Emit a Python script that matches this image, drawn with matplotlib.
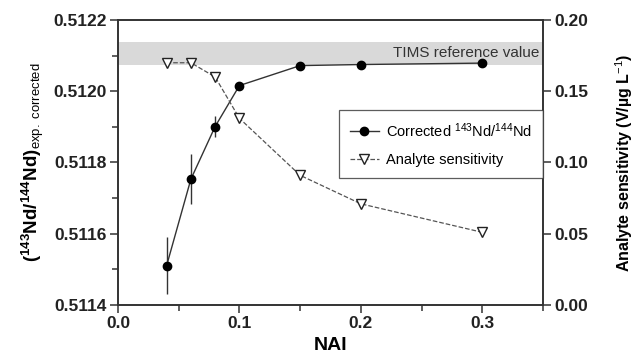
import matplotlib
matplotlib.use("Agg")
import matplotlib.pyplot as plt
from matplotlib.lines import Line2D
from matplotlib.ticker import MultipleLocator

plt.rcParams['font.family'] = ['Liberation Sans', 'DejaVu Sans']
plt.rcParams['mathtext.fontset'] = 'custom'
plt.rcParams['mathtext.rm'] = 'Liberation Sans'
plt.rcParams['mathtext.it'] = 'Liberation Sans:italic'
plt.rcParams['mathtext.bf'] = 'Liberation Sans:bold'

# Data
nai = [0.04, 0.06, 0.08, 0.10, 0.15, 0.20, 0.30]
nd_ratio = [0.51151, 0.511753, 0.511901, 0.512016, 0.512072, 0.512075, 0.512079]
nd_err = [0.00008, 0.00007, 0.00003, 0, 0, 0, 0]
sensitivity = [0.170, 0.170, 0.160, 0.131, 0.091, 0.071, 0.051]
tims_low = 0.512073
tims_high = 0.512139

col = '#333333'

fig = plt.figure(figsize=(6.34, 3.58), dpi=100)
ax = fig.add_axes([118/634, 1 - 305/358, (543-118)/634, (305-20)/358])
ax2 = ax.twinx()

# TIMS reference band
ax.axhspan(tims_low, tims_high, color='#d9d9d9', zorder=0, lw=0)
ax.text(0.347, (tims_low + tims_high) / 2, 'TIMS reference value',
        ha='right', va='center', fontsize=11, color='#333333')

ax.errorbar(nai, nd_ratio, yerr=nd_err, color=col, marker='o', ms=6,
            lw=1, elinewidth=1, capsize=0, mfc='black', mec='black', zorder=3)
l2, = ax2.plot(nai, sensitivity, color='#555555', ls='--', lw=0.9, marker='v',
               ms=7, mfc='white', mec='#222222', mew=1, zorder=3)

ax.set_xlim(0, 0.35)
ax.set_ylim(0.5114, 0.5122)
ax2.set_ylim(0, 0.20)

ax.xaxis.set_major_locator(MultipleLocator(0.1))
ax.xaxis.set_minor_locator(MultipleLocator(0.05))
ax.yaxis.set_major_locator(MultipleLocator(0.0002))
ax.yaxis.set_minor_locator(MultipleLocator(0.0001))
ax2.yaxis.set_major_locator(MultipleLocator(0.05))

ax.xaxis.set_major_formatter(plt.FuncFormatter(lambda v, p: f'{v:.1f}'))
ax.yaxis.set_major_formatter(plt.FuncFormatter(lambda v, p: f'{v:.4f}'))
ax2.yaxis.set_major_formatter(plt.FuncFormatter(lambda v, p: f'{v:.2f}'))

for a in (ax, ax2):
    for s in a.spines.values():
        s.set_color(col)
        s.set_linewidth(1.2)
    a.tick_params(which='major', direction='out', length=6, width=1.1,
                  color=col, labelsize=12.5, pad=2)
    a.tick_params(which='minor', direction='out', length=4, width=1.1, color=col)
    for lab in a.get_xticklabels() + a.get_yticklabels():
        lab.set_fontweight('bold')
        lab.set_color('#222222')

ax.set_xlabel('NAI', fontsize=14, fontweight='bold', labelpad=4)
ax.set_ylabel(r'$\mathbf{(^{143}Nd/^{144}Nd)}_{\rm exp.\ corrected}$',
              fontsize=13.5, labelpad=5)
ax2.set_ylabel('Analyte sensitivity (V/µg L$^{-1}$)', fontsize=11.5,
               fontweight='bold', labelpad=18)

h1 = Line2D([], [], color=col, lw=1, marker='o', ms=6, mfc='black', mec='black')
leg = ax2.legend([h1, l2], ['Corrected $^{143}$Nd/$^{144}$Nd', 'Analyte sensitivity'],
                 loc='upper right', bbox_to_anchor=(1, 1 - 90/285),
                 borderaxespad=0, fontsize=10.5, frameon=True, fancybox=False,
                 edgecolor=col, handlelength=2.0, borderpad=0.75,
                 labelspacing=0.9, handletextpad=0.5)
leg.get_frame().set_linewidth(0.9)
leg.set_zorder(5)

fig.savefig('out.png', dpi=100)
